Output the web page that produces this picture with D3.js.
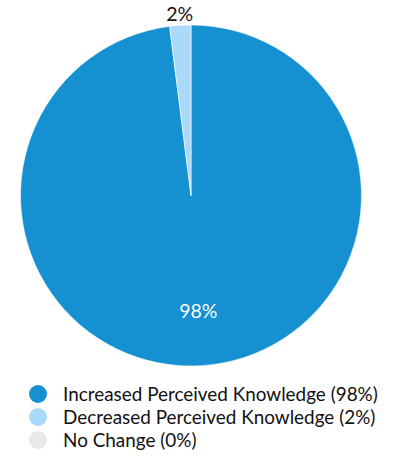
<!DOCTYPE html>
<html>
<head>
<meta charset="utf-8">
<script src="https://cdn.jsdelivr.net/npm/d3@7"></script>
<style>
  html, body { margin: 0; padding: 0; background: #fff; }
  svg { display: block; font-family: Lato, "Open Sans", sans-serif; }
</style>
</head>
<body>
<svg id="chart" width="396" height="456"></svg>
<script>
const categories = ["Increased Perceived Knowledge", "Decreased Perceived Knowledge", "No Change"];
const values = [98, 2, 0];
const colors = ["#1590d0", "#aad9f9", "#e8e8e8"];

const svg = d3.select("#chart");
const cx = 191, cy = 195.5, radius = 170.5;

const pie = d3.pie().sort(null).value(d => d.value);
const data = categories.map((c, i) => ({ name: c, value: values[i], color: colors[i] }));
const arcs = pie(data);

const arc = d3.arc().innerRadius(0).outerRadius(radius);
const g = svg.append("g").attr("transform", `translate(${cx},${cy})`);

g.selectAll("path.slice")
  .data(arcs.filter(a => a.data.value > 0))
  .join("path")
  .attr("class", "slice")
  .attr("d", arc)
  .attr("fill", d => d.data.color)
  .attr("stroke", "#fff")
  .attr("stroke-width", 0.6);

// value labels: inside for large slices, outside for thin ones
const inner = d3.arc().innerRadius(radius * 0.68).outerRadius(radius * 0.68);
const outer = d3.arc().innerRadius(radius + 11).outerRadius(radius + 11);
g.selectAll("text.val")
  .data(arcs.filter(a => a.data.value > 0))
  .join("text")
  .attr("class", "val")
  .attr("transform", d => `translate(${(d.data.value > 10 ? inner : outer).centroid(d)})`)
  .attr("text-anchor", "middle")
  .attr("dy", "0.35em")
  .attr("font-size", 19.5)
  .attr("fill", d => d.data.value > 10 ? "#fff" : "#111")
  .text(d => d.data.value + "%");

// legend
const legend = svg.append("g").attr("transform", "translate(38,394)");
const item = legend.selectAll("g").data(data).join("g")
  .attr("transform", (d, i) => `translate(0,${i * 23})`);
item.append("circle").attr("r", 9).attr("fill", d => d.color);
item.append("text")
  .attr("x", 25).attr("dy", "0.35em")
  .attr("font-size", 18.9).attr("fill", "#111")
  .text(d => `${d.name} (${d.value}%)`);
</script>
</body>
</html>
